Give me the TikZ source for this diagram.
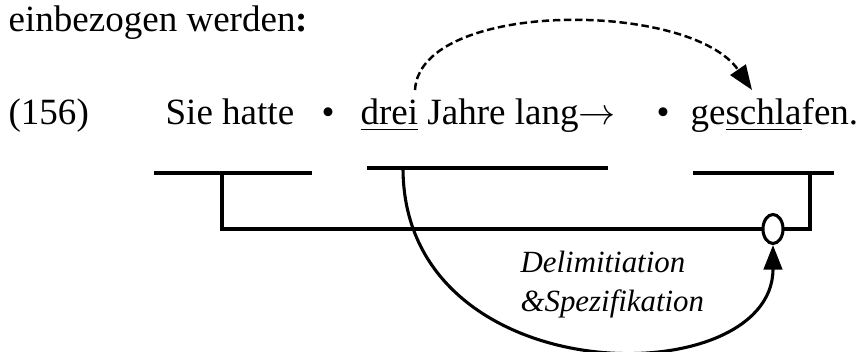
\documentclass[tikz,border=0pt]{standalone}
\usepackage{fontspec}
\setmainfont{Liberation Serif}
\usetikzlibrary{arrows.meta,positioning,shapes.geometric}
\newcommand{\unterstr}[1]{\underline{#1}}

\begin{document}
\begin{tikzpicture}[
    x=0.324pt, y=-0.324pt,
    % Defining style for the words of the example
    word/.style={
        inner sep=0pt,
        anchor=base west,
        font=\fontsize{12}{14}\selectfont
    },
    % Defining style for the bars and the bracket
    bar/.style={
        draw=black,
        line width=1pt
    },
    % Defining style for the relation arrows
    relarrow/.style={
        -{Triangle[length=8pt,width=6pt]},
        line width=1pt
    },
    % Defining style for the name of the relation
    relname/.style={
        inner sep=0pt,
        anchor=base west,
        font=\itshape\fontsize{10}{12}\selectfont
    }
]

    \useasboundingbox (0,0) rectangle (858,352);

    % Text lines
    \node[word] (intro) at (8,32) {einbezogen werden\textbf{:}};
    \node[word] (num) at (8,125) {(156)};
    \node[word] (sie) at (165,125) {Sie hatte};
    \node[word,anchor=base] (dot1) at (328,125) {\textbullet};
    \node[word] (drei) at (360,125) {\unterstr{drei} Jahre lang$\rightarrow$};
    \node[word,anchor=base] (dot2) at (663,125) {\textbullet};
    \node[word] (verb) at (690,125) {ge\unterstr{schla}fen.};

    % Bars under the parts of the sentence
    \coordinate (b1l) at (154,173);
    \coordinate (b1m) at (222,173);
    \coordinate (b1r) at (312,173);
    \coordinate (b2l) at (367,168);
    \coordinate (b2m) at (403,168);
    \coordinate (b2r) at (608,168);
    \coordinate (b3l) at (693,173);
    \coordinate (b3m) at (810,173);
    \coordinate (b3r) at (834,173);

    \draw[bar] (b1l) -- (b1r);
    \draw[bar] (b2l) -- (b2r);
    \draw[bar] (b3l) -- (b3r);

    % Bracket joining the first and the last part
    \draw[bar] (b1m) -- ++(0,56) -| (b3m);
    \node[ellipse, draw, fill=white, line width=1pt, inner sep=0pt,
          minimum width=6.5pt, minimum height=9.4pt] (knot) at (773,229) {};

    % Relation arrows
    \coordinate (src) at (415,90);
    \coordinate (dst) at (752,90);
    \draw[relarrow, line width=0.8pt, dash pattern=on 2.4pt off 1.2pt]
        (src) .. controls (420,0) and (690,0) .. (dst);
    \draw[relarrow] (b2m) .. controls (403,395) and (773,395) .. (knot.south);

    \node[relname] (delim) at (520,273) {Delimitiation};
    \node[relname] (spez) at (520,312) {\&Spezifikation};

\end{tikzpicture}
\end{document}
